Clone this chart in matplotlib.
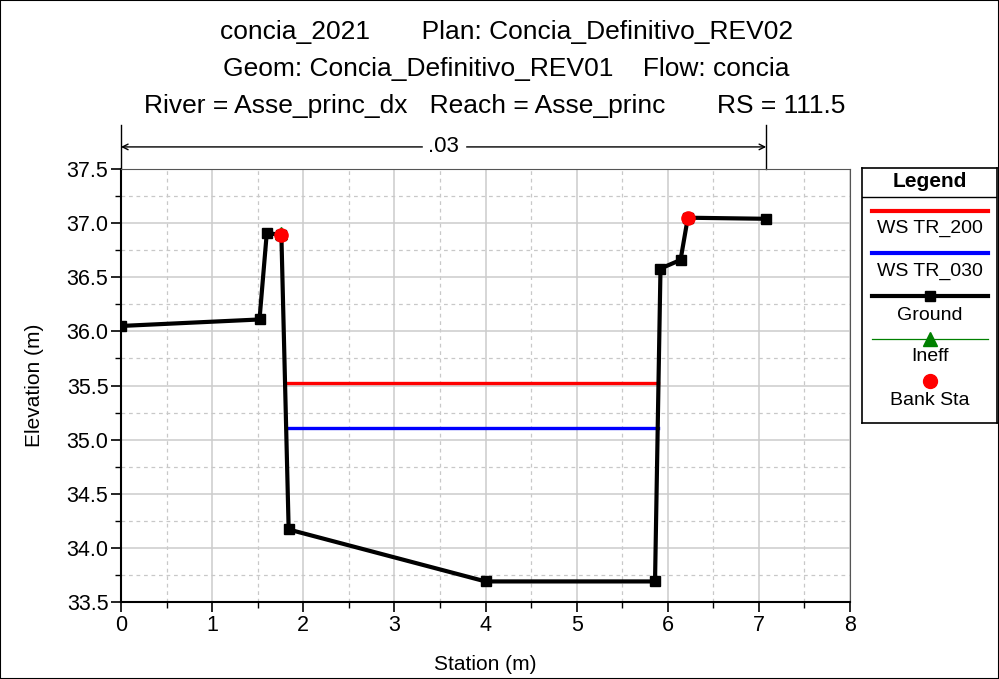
import numpy as np
import matplotlib.pyplot as plt
from matplotlib.lines import Line2D
from matplotlib.patches import Rectangle

plt.rcParams["font.family"] = ["Liberation Sans", "DejaVu Sans"]

# cross-section data
station = [0.0, 1.52, 1.60, 1.76, 1.84, 4.00, 5.86, 5.92, 6.14, 6.22, 7.08]
ground = [36.05, 36.11, 36.91, 36.89, 34.17, 33.69, 33.69, 36.58, 36.66, 37.05, 37.04]
bank_sta = [1.76, 6.22]
bank_elev = [36.89, 37.05]
ineff_sta = [1.76]
ineff_elev = [36.91]
ws_names = ["WS TR_200", "WS TR_030"]
ws_elev = [35.52, 35.11]
ws_colors = ["#ff0000", "#0000ff"]
n_value = ".03"
n_range = [0.0, 7.08]

title_lines = [
    "concia_2021       Plan: Concia_Definitivo_REV02",
    "Geom: Concia_Definitivo_REV01    Flow: concia",
    "River = Asse_princ_dx   Reach = Asse_princ       RS = 111.5",
]
title_x = [0.507, 0.507, 0.495]


def channel_edges(x, z, level):
    """Stations where the water level crosses the ground, inside the main channel."""
    x = np.asarray(x)
    z = np.asarray(z)
    low = int(np.argmin(z))
    left = right = None
    for i in range(low, 0, -1):
        if z[i - 1] >= level:
            left = x[i - 1] + (level - z[i - 1]) / (z[i] - z[i - 1]) * (x[i] - x[i - 1])
            break
    for i in range(low, len(x) - 1):
        if z[i + 1] >= level:
            right = x[i] + (level - z[i]) / (z[i + 1] - z[i]) * (x[i + 1] - x[i])
            break
    return left, right


def main():
    fig = plt.figure(figsize=(9.99, 6.79), dpi=100)
    fig.patches.append(Rectangle((0, 0), 1, 1, transform=fig.transFigure,
                                 fill=False, edgecolor="black", linewidth=1.5))

    ax = fig.add_axes([0.1211, 0.1134, 0.7298, 0.6377])

    for name, level, color in zip(ws_names, ws_elev, ws_colors):
        x0, x1 = channel_edges(station, ground, level)
        ax.plot([x0, x1], [level, level], color=color, linewidth=2.4, zorder=3)

    ax.plot(station, ground, color="black", linewidth=3.0, marker="s",
            markersize=6.5, zorder=4)
    ax.plot(ineff_sta, ineff_elev, linestyle="none", marker="^", color="green",
            markersize=8.5, zorder=5)
    ax.plot(bank_sta, bank_elev, linestyle="none", marker="o", color="red",
            markersize=9.5, zorder=6)

    ax.set_xlim(0, 8)
    ax.set_ylim(33.5, 37.5)
    ax.set_xticks(np.arange(0, 9, 1))
    ax.set_xticks(np.arange(0, 8.01, 0.5), minor=True)
    ax.set_yticks(np.arange(33.5, 37.51, 0.5))
    ax.set_yticks(np.arange(33.5, 37.51, 0.25), minor=True)
    ax.yaxis.set_major_formatter(plt.FormatStrFormatter("%.1f"))
    ax.grid(which="major", color="#cccccc", linewidth=1.1, linestyle="-")
    ax.grid(which="minor", color="#c8c8c8", linewidth=0.9, linestyle=(0, (3, 3)))
    ax.set_axisbelow(True)
    ax.tick_params(which="major", direction="out", length=7, width=1.2,
                   labelsize=15.5, pad=2, top=False, right=False)
    ax.tick_params(which="minor", direction="out", length=4, width=1.0,
                   top=False, right=False)
    for side in ["left", "bottom"]:
        ax.spines[side].set_linewidth(1.5)
    for side in ["top", "right"]:
        ax.spines[side].set_color("#555555")
    ax.set_xlabel("Station (m)", fontsize=15)
    ax.xaxis.set_label_coords(0.5, -0.122)
    ax.set_ylabel("Elevation (m)", fontsize=15, labelpad=16)

    # Manning's n region marker above the plot
    trans = ax.get_xaxis_transform()
    for xv in n_range:
        ax.plot([xv, xv], [1.0, 1.102], color="black", linewidth=1.0,
                transform=trans, clip_on=False)
    ax.annotate("", xy=(n_range[0], 1.051), xytext=(n_range[1], 1.051),
                xycoords=trans, textcoords=trans,
                arrowprops=dict(arrowstyle="<->", color="black", lw=1.0,
                                shrinkA=0, shrinkB=0))
    ax.text(sum(n_range) / 2, 1.051, n_value, transform=trans, ha="center",
            va="center", fontsize=16, backgroundcolor="white")

    for i, (line, xc) in enumerate(zip(title_lines, title_x)):
        fig.text(xc, 0.9529 - i * 0.0545, line, ha="center", va="center",
                 fontsize=19)

    # legend panel
    lg = fig.add_axes([0.863, 0.377, 0.135, 0.376])
    lg.set_xlim(0, 1)
    lg.set_ylim(0, 1)
    lg.set_xticks([])
    lg.set_yticks([])
    for s in lg.spines.values():
        s.set_linewidth(1.2)
    lg.text(0.5, 0.945, "Legend", ha="center", va="center", fontsize=15,
            fontweight="bold")
    lg.add_line(Line2D([0, 1], [0.886, 0.886], color="black", linewidth=1.0))
    entries = [
        ("WS TR_200", dict(color="#ff0000", linewidth=3.0), 0.831, 0.761),
        ("WS TR_030", dict(color="#0000ff", linewidth=3.0), 0.667, 0.592),
        ("Ground", dict(color="black", linewidth=3.0, marker="s", markersize=6.5), 0.498, 0.420),
        ("Ineff", dict(color="green", linewidth=0.9, marker="^", markersize=10), 0.329, 0.259),
        ("Bank Sta", dict(color="red", linestyle="none", marker="o", markersize=10), 0.165, 0.090),
    ]
    for label, style, y_line, y_text in entries:
        if style.get("marker"):
            lg.plot([0.07, 0.93], [y_line, y_line], markevery=[], **style)
            lg.plot([0.5], [y_line], **{k: v for k, v in style.items()
                                        if k not in ("linewidth", "linestyle")},
                    linestyle="none")
        else:
            lg.plot([0.07, 0.93], [y_line, y_line], **style)
        lg.text(0.5, y_text, label, ha="center", va="center", fontsize=14)

    fig.savefig("out.png", dpi=100)


if __name__ == "__main__":
    main()
